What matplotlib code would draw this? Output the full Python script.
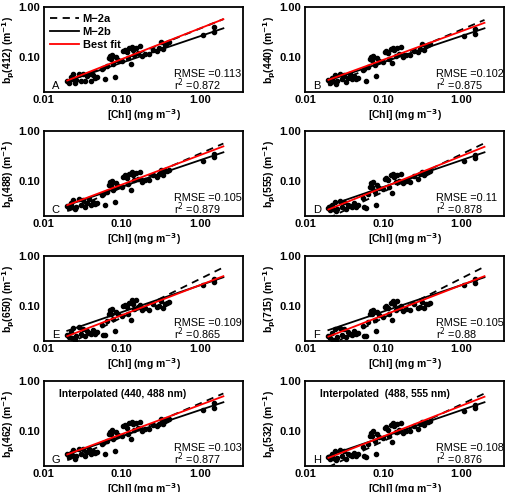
import numpy as np
import matplotlib
matplotlib.use("Agg")
import matplotlib.pyplot as plt

plt.rcParams['font.family'] = ['Liberation Sans', 'DejaVu Sans']
plt.rcParams['mathtext.default'] = 'bf'

chl = [0.020, 0.021, 0.022, 0.023, 0.024, 0.025, 0.026, 0.028, 0.030, 0.032, 0.034, 0.036, 0.038, 0.040, 0.043, 0.045, 0.048,
       0.055, 0.058, 0.060, 0.065, 0.068, 0.070, 0.072, 0.075, 0.078, 0.082, 0.085, 0.090,
       0.100, 0.105, 0.110, 0.115, 0.120, 0.125, 0.130, 0.135, 0.140, 0.145, 0.150, 0.160, 0.170, 0.180, 0.200,
       0.220, 0.250, 0.280, 0.300, 0.320, 0.340, 0.360, 0.380, 0.400,
       1.10, 1.50, 1.50]

bp412 = [0.033, 0.031, 0.040, 0.036, 0.045, 0.030, 0.035, 0.047, 0.034, 0.046, 0.033, 0.041, 0.047, 0.034, 0.043, 0.038, 0.040,
         0.058, 0.060, 0.036, 0.068, 0.095, 0.105, 0.092, 0.112, 0.072, 0.040, 0.100, 0.088,
         0.082, 0.132, 0.140, 0.125, 0.095, 0.150, 0.072, 0.160, 0.142, 0.112, 0.155, 0.122, 0.165, 0.106, 0.118,
         0.118, 0.142, 0.132, 0.150, 0.200, 0.146, 0.172, 0.195, 0.205,
         0.275, 0.400, 0.320]
bp440 = [0.035, 0.030, 0.038, 0.034, 0.043, 0.029, 0.033, 0.045, 0.036, 0.044, 0.032, 0.039, 0.045, 0.036, 0.041, 0.037, 0.039,
         0.055, 0.058, 0.034, 0.064, 0.090, 0.100, 0.088, 0.108, 0.069, 0.042, 0.096, 0.084,
         0.080, 0.128, 0.135, 0.120, 0.090, 0.146, 0.075, 0.155, 0.138, 0.108, 0.150, 0.118, 0.158, 0.102, 0.113,
         0.113, 0.136, 0.128, 0.145, 0.180, 0.140, 0.165, 0.175, 0.185,
         0.265, 0.370, 0.290]
bp488 = [0.032, 0.029, 0.036, 0.031, 0.041, 0.027, 0.031, 0.043, 0.033, 0.042, 0.030, 0.037, 0.043, 0.033, 0.039, 0.035, 0.037,
         0.052, 0.055, 0.033, 0.060, 0.085, 0.096, 0.083, 0.103, 0.066, 0.038, 0.092, 0.080,
         0.076, 0.122, 0.130, 0.115, 0.086, 0.140, 0.066, 0.150, 0.133, 0.104, 0.145, 0.112, 0.150, 0.098, 0.108,
         0.108, 0.130, 0.122, 0.140, 0.165, 0.135, 0.158, 0.162, 0.170,
         0.260, 0.350, 0.300]
bp555 = [0.029, 0.026, 0.033, 0.028, 0.038, 0.025, 0.028, 0.040, 0.030, 0.039, 0.027, 0.034, 0.032, 0.030, 0.036, 0.031, 0.033,
         0.047, 0.030, 0.029, 0.055, 0.078, 0.090, 0.076, 0.097, 0.060, 0.034, 0.085, 0.074,
         0.070, 0.112, 0.118, 0.105, 0.078, 0.130, 0.058, 0.140, 0.123, 0.095, 0.135, 0.103, 0.140, 0.090, 0.099,
         0.098, 0.125, 0.110, 0.140, 0.150, 0.130, 0.148, 0.152, 0.160,
         0.250, 0.330, 0.290]
bp650 = [0.026, 0.024, 0.030, 0.023, 0.036, 0.021, 0.025, 0.038, 0.027, 0.035, 0.025, 0.031, 0.029, 0.027, 0.033, 0.028, 0.030,
         0.042, 0.026, 0.026, 0.050, 0.070, 0.083, 0.070, 0.087, 0.055, 0.032, 0.078, 0.068,
         0.063, 0.100, 0.105, 0.095, 0.070, 0.118, 0.053, 0.130, 0.110, 0.086, 0.130, 0.095, 0.105, 0.082, 0.090,
         0.085, 0.110, 0.095, 0.100, 0.125, 0.092, 0.110, 0.115, 0.120,
         0.270, 0.350, 0.300]
bp715 = [0.025, 0.023, 0.029, 0.021, 0.034, 0.020, 0.024, 0.036, 0.026, 0.034, 0.024, 0.030, 0.028, 0.026, 0.032, 0.027, 0.029,
         0.040, 0.025, 0.025, 0.048, 0.068, 0.080, 0.068, 0.085, 0.053, 0.031, 0.076, 0.066,
         0.061, 0.098, 0.103, 0.092, 0.068, 0.118, 0.052, 0.128, 0.108, 0.084, 0.128, 0.092, 0.102, 0.080, 0.088,
         0.083, 0.108, 0.092, 0.098, 0.122, 0.090, 0.108, 0.112, 0.118,
         0.265, 0.345, 0.290]
bp462 = [0.034, 0.030, 0.037, 0.033, 0.042, 0.028, 0.032, 0.044, 0.035, 0.043, 0.031, 0.038, 0.044, 0.035, 0.040, 0.036, 0.038,
         0.054, 0.057, 0.034, 0.062, 0.088, 0.098, 0.086, 0.106, 0.068, 0.040, 0.094, 0.082,
         0.078, 0.125, 0.132, 0.118, 0.088, 0.143, 0.068, 0.152, 0.136, 0.106, 0.148, 0.115, 0.155, 0.100, 0.110,
         0.110, 0.133, 0.125, 0.142, 0.172, 0.138, 0.162, 0.168, 0.178,
         0.262, 0.360, 0.295]
bp532 = [0.030, 0.027, 0.034, 0.029, 0.039, 0.026, 0.029, 0.041, 0.031, 0.040, 0.028, 0.035, 0.033, 0.031, 0.037, 0.032, 0.034,
         0.048, 0.031, 0.030, 0.056, 0.080, 0.092, 0.078, 0.100, 0.062, 0.035, 0.087, 0.076,
         0.072, 0.114, 0.120, 0.107, 0.080, 0.132, 0.060, 0.143, 0.125, 0.097, 0.138, 0.105, 0.143, 0.092, 0.101,
         0.100, 0.127, 0.112, 0.142, 0.153, 0.132, 0.150, 0.155, 0.162,
         0.255, 0.335, 0.292]

# model lines: bp at chl = 0.02 and chl = 2
line_chl = [0.02, 2.0]
m2a = [[0.032, 0.58], [0.027, 0.56], [0.025, 0.57], [0.018, 0.58],
       [0.017, 0.60], [0.016, 0.62], [0.026, 0.57], [0.019, 0.57]]
m2b = [[0.033, 0.38], [0.034, 0.38], [0.033, 0.38], [0.032, 0.38],
       [0.032, 0.38], [0.033, 0.38], [0.034, 0.38], [0.032, 0.38]]
best = [[0.034, 0.58], [0.035, 0.49], [0.033, 0.50], [0.027, 0.49],
        [0.025, 0.40], [0.0245, 0.40], [0.034, 0.50], [0.029, 0.49]]

wavelengths = ['412', '440', '488', '555', '650', '715', '462', '532']
letters = ['A', 'B', 'C', 'D', 'E', 'F', 'G', 'H']
rmse = ['0.113', '0.102', '0.105', '0.11', '0.109', '0.105', '0.103', '0.108']
r2 = ['0.872', '0.875', '0.879', '0.878', '0.865', '0.88', '0.877', '0.876']
notes = ['', '', '', '', '', '', 'Interpolated (440, 488 nm)', 'Interpolated  (488, 555 nm)']
bp_all = [bp412, bp440, bp488, bp555, bp650, bp715, bp462, bp532]

fig = plt.figure(figsize=(5.09, 4.92), dpi=100)

lefts = [0.086, 0.599]
bottoms = [0.813, 0.561, 0.307, 0.053]
w, h = 0.392, 0.172

for i in range(8):
    ax = fig.add_axes([lefts[i % 2], bottoms[i // 2], w, h])
    ax.set_xscale('log')
    ax.set_yscale('log')
    ax.scatter(chl, bp_all[i], s=9, c='black', zorder=2)
    ax.plot(line_chl, m2a[i], 'k--', lw=1.3, dashes=(4, 3), label='M\u22122a', zorder=3)
    ax.plot(line_chl, m2b[i], 'k-', lw=1.3, label='M\u22122b', zorder=3)
    ax.plot(line_chl, best[i], '-', c='red', lw=1.3, label='Best fit', zorder=4)
    ax.set_xlim(0.01, 3.6)
    ax.set_ylim(0.02, 1.0)
    ax.set_xticks([0.01, 0.1, 1.0])
    ax.set_xticklabels(['0.01', '0.10', '1.00'])
    ax.set_yticks([0.1, 1.0])
    ax.set_yticklabels(['0.10', '1.00'])
    ax.minorticks_off()
    ax.tick_params(length=0, labelsize=8, pad=2.5)
    for lab in ax.get_xticklabels() + ax.get_yticklabels():
        lab.set_fontweight('bold')
    for sp in ax.spines.values():
        sp.set_linewidth(1.3)
    ax.set_xlabel(r'[Chl] (mg m$^{-3}$)', fontsize=7.5, fontweight='bold', labelpad=1.5)
    ax.set_ylabel(r'b$_p$(' + wavelengths[i] + r') (m$^{-1}$)', fontsize=7.5, fontweight='bold', labelpad=1)
    ax.text(0.655, 0.18, 'RMSE =' + rmse[i], transform=ax.transAxes, fontsize=7.8)
    ax.text(0.655, 0.03, r'r$^{\rm 2}$ =' + r2[i], transform=ax.transAxes, fontsize=7.8)
    ax.text(0.04, 0.04, letters[i], transform=ax.transAxes, fontsize=8)
    if notes[i]:
        ax.text(0.075, 0.82, notes[i], transform=ax.transAxes, fontsize=7.4, fontweight='bold')
    if i == 0:
        ax.legend(loc='upper left', frameon=False, prop={'size': 8, 'weight': 'bold'},
                  handlelength=2.6, handletextpad=0.3, labelspacing=0.25, borderaxespad=0.2)

plt.savefig('out.png', dpi=100)
